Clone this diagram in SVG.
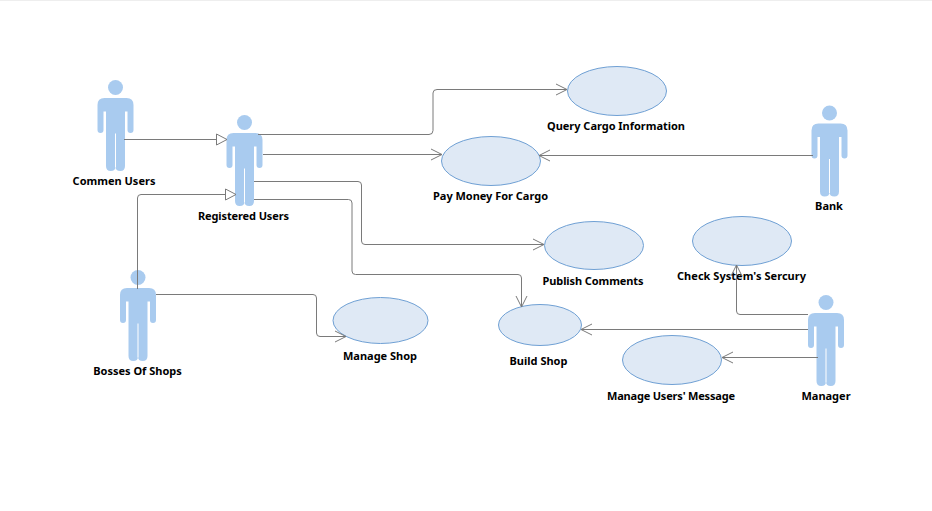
<svg xmlns="http://www.w3.org/2000/svg" width="932" height="511" viewBox="0 0 932 511">
<style>
.uc{fill:#dfe9f5;stroke:#6fa0d4;stroke-width:1}
.actor{fill:#a9cbef}
.gap{stroke:#fff;stroke-width:1;fill:none}
.c{fill:none;stroke:#7a7a7a;stroke-width:1}
.t{font-family:"Noto Sans","Open Sans",sans-serif;font-weight:700;font-size:11px;fill:#000;text-anchor:middle}
</style>
<defs>
<g id="man">
<circle cx="0" cy="0" r="7.500" class="actor"/>
<path class="actor" d="M-11 10.500H11Q18 10.500 18 17.500V42.500Q18 45.500 15 45.500Q12 45.500 12 42.500V24H9.500V78.500Q9.500 83.500 4.800 83.500Q0 83.500 0 79Q0 83.500 -4.800 83.500Q-9.500 83.500 -9.500 78.500V24H-12V42.500Q-12 45.500 -15 45.500Q-18 45.500 -18 42.500V17.500Q-18 10.500 -11 10.500Z"/>
<path class="gap" d="M0 46V80"/>
</g>
<marker id="open" markerUnits="userSpaceOnUse" markerWidth="14" markerHeight="14" refX="12" refY="7" orient="auto"><path d="M1 1.500L12 7L1 12.500" fill="none" stroke="#7a7a7a"/></marker>
<marker id="tri" markerUnits="userSpaceOnUse" markerWidth="14" markerHeight="14" refX="12" refY="7" orient="auto"><path d="M1.500 1.500L12 7L1.500 12.500Z" fill="#fff" stroke="#7a7a7a"/></marker>
</defs>
<rect width="932" height="511" fill="#fff"/>
<path d="M0 .5H932" stroke="#eeeeee" fill="none"/>
<g id="commen-users"><use href="#man" x="115.500" y="87.500"/><text class="t" x="114" y="185">Commen Users</text></g>
<g id="registered-users"><use href="#man" x="244.500" y="122.500"/><text class="t" x="243.500" y="220" textLength="91">Registered Users</text></g>
<g id="bosses-of-shops"><use href="#man" x="138" y="277.500"/><text class="t" x="137.500" y="375">Bosses Of Shops</text></g>
<g id="bank"><use href="#man" x="829.500" y="113"/><text class="t" x="829" y="210">Bank</text></g>
<g id="manager"><use href="#man" x="826" y="302.500"/><text class="t" x="826" y="400">Manager</text></g>
<g id="query-cargo"><ellipse class="uc" cx="617" cy="91" rx="49.500" ry="24.500"/><text class="t" x="616" y="130" textLength="138">Query Cargo Information</text></g>
<g id="pay-money"><ellipse class="uc" cx="491" cy="161" rx="49.500" ry="24.500"/><text class="t" x="490.500" y="200" textLength="115">Pay Money For Cargo</text></g>
<g id="publish-comments"><ellipse class="uc" cx="594" cy="245.500" rx="49.500" ry="24"/><text class="t" x="593" y="285" textLength="101">Publish Comments</text></g>
<g id="check-security"><ellipse class="uc" cx="742" cy="241" rx="49.500" ry="24.500"/><text class="t" x="741.500" y="280" textLength="129">Check System's Sercury</text></g>
<g id="manage-shop"><ellipse class="uc" cx="380.500" cy="320.500" rx="47.500" ry="23"/><text class="t" x="380" y="360">Manage Shop</text></g>
<g id="build-shop"><ellipse class="uc" cx="540" cy="325" rx="41.500" ry="20.500"/><text class="t" x="538.500" y="365">Build Shop</text></g>
<g id="manage-users"><ellipse class="uc" cx="672" cy="360" rx="49.500" ry="24.500"/><text class="t" x="671" y="400" textLength="128">Manage Users' Message</text></g>
<g id="connectors">
<path class="c" marker-end="url(#tri)" d="M124 139.500H227"/>
<path class="c" marker-end="url(#tri)" d="M137.500 289V198Q137.500 194.500 141 194.500H236"/>
<path class="c" marker-end="url(#open)" d="M258 134.500H429Q433 134.500 433 130.500V93Q433 89.500 437 89.500H567"/>
<path class="c" marker-end="url(#open)" d="M263 154.500H442"/>
<path class="c" marker-end="url(#open)" d="M254 181.500H358Q361.500 181.500 361.500 185V241Q361.500 244.500 365 244.500H544"/>
<path class="c" marker-end="url(#open)" d="M254 199.500H348.500Q352 199.500 352 203V271Q352 274.500 355.500 274.500H518Q521.500 274.500 521.500 278V307"/>
<path class="c" marker-end="url(#open)" d="M156 294.500H313Q316.500 294.500 316.500 298V333Q316.500 336.500 320 336.500H346"/>
<path class="c" marker-end="url(#open)" d="M813 155.500H539"/>
<path class="c" marker-end="url(#open)" d="M808 314.500H740Q736.500 314.500 736.500 311V265"/>
<path class="c" marker-end="url(#open)" d="M808 329.500H581"/>
<path class="c" marker-end="url(#open)" d="M818 357.500H722"/>
</g>
</svg>
